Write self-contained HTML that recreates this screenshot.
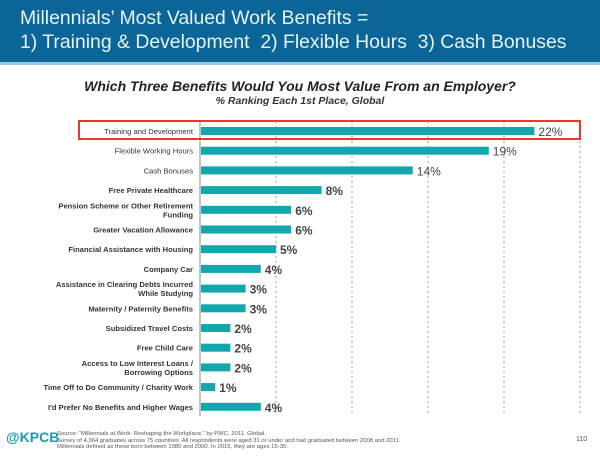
<!DOCTYPE html>
<html><head><meta charset="utf-8"><style>
body{margin:0;width:600px;height:456px;background:#fff;font-family:"Liberation Sans",sans-serif;overflow:hidden;position:relative}
.hdr{position:absolute;left:0;top:0;width:600px;height:62px;background:#0b6597;border-bottom:3px solid #9fc7dc}
.hdr div{position:absolute;left:20px;color:#e8f3f8;font-size:19.4px;white-space:nowrap}
.t1{position:absolute;top:78px;left:0;width:600px;text-align:center;font-weight:bold;font-style:italic;font-size:14px;color:#222}
.t2{position:absolute;top:95px;left:0;width:600px;text-align:center;font-weight:bold;font-style:italic;font-size:10.5px;color:#333}
.foot{position:absolute;font-size:5.9px;color:#555;left:57px;top:431px;line-height:6.5px;white-space:nowrap}
</style></head><body>
<div class="hdr">
<div style="top:7px">Millennials’ Most Valued Work Benefits =</div>
<div style="top:31px">1) Training &amp; Development&nbsp; 2) Flexible Hours&nbsp; 3) Cash Bonuses</div>
</div>
<div class="t1">Which Three Benefits Would You Most Value From an Employer?</div>
<div class="t2">% Ranking Each 1st Place, Global</div>
<svg id="chart" width="600" height="456" style="position:absolute;left:0;top:0"></svg>
<div style="position:absolute;left:6px;top:429px;font-size:14px;font-weight:bold;color:#1b9bb0">@KPCB</div>
<div class="foot">Source: "Millennials at Work: Reshaping the Workplace," by PWC, 2011. Global.<br>Survey of 4,364 graduates across 75 countries. All respondents were aged 31 or under and had graduated between 2008 and 2011.<br>Millennials defined as those born between 1980 and 2000. In 2015, they are ages 15-35.</div>
<div style="position:absolute;left:576px;top:436px;font-size:7px;color:#555">110</div>
<script>
const categories=[["Training and Development"],["Flexible Working Hours"],["Cash Bonuses"],["Free Private Healthcare"],["Pension Scheme or Other Retirement","Funding"],["Greater Vacation Allowance"],["Financial Assistance with Housing"],["Company Car"],["Assistance in Clearing Debts Incurred","While Studying"],["Maternity / Paternity Benefits"],["Subsidized Travel Costs"],["Free Child Care"],["Access to Low Interest Loans /","Borrowing Options"],["Time Off to Do Community / Charity Work"],["I'd Prefer No Benefits and Higher Wages"]];
const values=[22,19,14,8,6,6,5,4,3,3,2,2,2,1,4];
const ticks=[0,5,10,15,20,25];
const svg=document.getElementById('chart');const NS='http://www.w3.org/2000/svg';
const x0=200,pxPer=15.2,yTop=131,step=19.7,top0=121,bottom=416;
const xs=v=>x0+v*pxPer;const ys=i=>yTop+i*step;
function mk(t,a){const e=document.createElementNS(NS,t);for(const k in a)e.setAttribute(k,a[k]);svg.appendChild(e);return e;}
ticks.forEach((t,i)=>{if(i===0)return;const g=mk('line',{x1:xs(t),x2:xs(t),y1:top0,y2:bottom,stroke:'#999','stroke-dasharray':'2,3','stroke-width':1});

});
const ax=mk('line',{x1:x0,x2:x0,y1:top0,y2:bottom,stroke:'#888','stroke-width':1});


values.forEach((v,i)=>{const y=ys(i);
const b=mk('rect',{x:x0+1,y:y-4,width:xs(v)-x0-1,height:8,fill:'#13a6aa'});


const l=mk('text',{x:xs(v)+4,y:y+5,'font-size':12,'font-weight':i>2?'bold':'normal',fill:'#444','font-family':'Liberation Sans'});l.textContent=v+'%';


const lines=categories[i];
lines.forEach((s,j)=>{const t=mk('text',{x:193,y:y+3+(j-(lines.length-1)/2)*9,'font-size':7.6,'font-weight':i<3?'normal':'bold','text-anchor':'end',fill:'#333','font-family':'Liberation Sans'});t.textContent=s;

});
});
const hl=mk('rect',{x:79,y:121,width:501,height:18,fill:'none',stroke:'#e8392c','stroke-width':2});


</script>
</body></html>
